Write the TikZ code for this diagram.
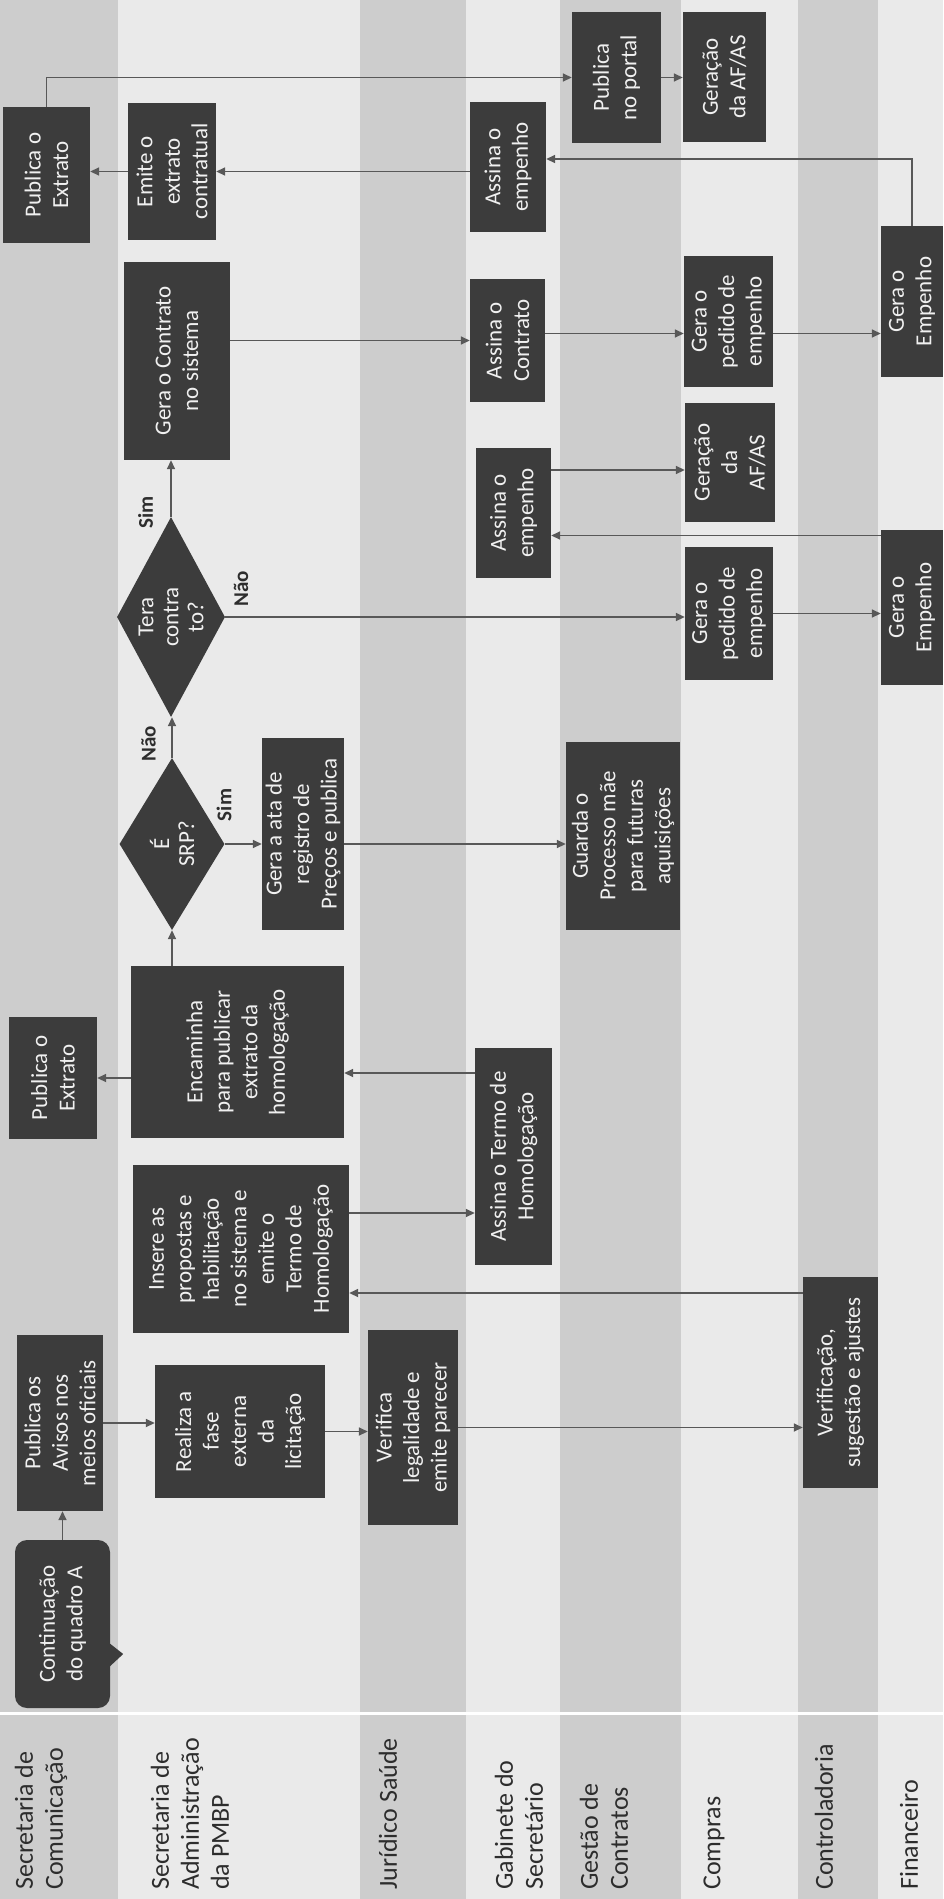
\documentclass[tikz,border=0pt]{standalone}
\usepackage{fontspec}
\setmainfont{Carlito}
\usepackage{tikz}
\usetikzlibrary{arrows.meta,calc,shapes.geometric}
\definecolor{lanegray}{RGB}{205,205,205}
\definecolor{lanelight}{RGB}{234,234,234}
\definecolor{boxdark}{RGB}{60,60,60}
\definecolor{boxtext}{RGB}{240,240,240}
\definecolor{wiregray}{RGB}{88,88,88}
\definecolor{labelink}{RGB}{45,45,45}
\tikzset{
  flow/.style={-{Triangle[length=9pt,width=8pt]},line width=1.6pt,draw=wiregray},
  task/.style={rotate=90,fill=boxdark,text=boxtext,align=center,inner sep=1pt,
               font=\fontsize{23}{27.5}\selectfont},
  decision/.style={task,shape=diamond,inner sep=0pt,font=\fontsize{23}{25}\selectfont},
  bubble/.style={task,rounded corners=12pt},
  lane/.style={rotate=90,anchor=west,align=left,inner sep=0pt,text=labelink,
               font=\fontsize{26}{30}\selectfont},
  answer/.style={rotate=90,inner sep=0pt,text=labelink,
                 font=\fontsize{21}{21}\selectfont\bfseries},
}
\begin{document}
\begin{tikzpicture}[x=1pt,y=-1pt]
  \path[use as bounding box] (0,0) rectangle (943,1899);
  \fill[lanegray]  (0,0)   rectangle (118,1899);
  \fill[lanelight] (118,0) rectangle (360,1899);
  \fill[lanegray]  (360,0) rectangle (466,1899);
  \fill[lanelight] (466,0) rectangle (560,1899);
  \fill[lanegray]  (560,0) rectangle (681,1899);
  \fill[lanelight] (681,0) rectangle (798,1899);
  \fill[lanegray]  (798,0) rectangle (878,1899);
  \fill[lanelight] (878,0) rectangle (943,1899);
  \draw[white,line width=3pt] (0,1713) -- (943,1713);

  \node[lane] (lnCom) at (41,1890) {Secretaria de\\Comunicação};
  \node[lane] (lnAdm) at (190,1890) {Secretaria de\\Administração\\da PMBP};
  \node[lane] (lnJur) at (388,1890) {Jurídico Saúde};
  \node[lane] (lnGab) at (519,1890) {Gabinete do\\Secretário};
  \node[lane] (lnGes) at (604,1890) {Gestão de\\Contratos};
  \node[lane] (lnCmp) at (714,1890) {Compras};
  \node[lane] (lnCtr) at (824,1890) {Controladoria};
  \node[lane] (lnFin) at (909,1890) {Financeiro};

  \node[bubble,minimum width=168pt,minimum height=95pt] (cont) at (62.5,1624)
    {Continuação\\do quadro A};
  \fill[boxdark] ($(cont.south)+(-1,19)$) -- ($(cont.south)+(13,30)$)
    -- ($(cont.south)+(-1,43)$) -- cycle;
  \node[task,minimum width=176pt,minimum height=86pt] (pubAvisos) at (60,1423)
    {Publica os\\Avisos nos\\meios oficiais};
  \node[task,minimum width=133pt,minimum height=170pt] (realiza) at (240,1431.5)
    {Realiza a\\fase\\externa\\da\\licitação};
  \node[task,minimum width=195pt,minimum height=90pt] (verifica) at (413,1427.5)
    {Verifica\\legalidade e\\emite parecer};
  \node[task,minimum width=211pt,minimum height=75pt] (verificacao) at (840.5,1382.5)
    {Verificação,\\sugestão e ajustes};
  \node[task,minimum width=168pt,minimum height=216pt] (insere) at (241,1249)
    {Insere as\\propostas e\\habilitação\\no sistema e\\emite o\\Termo de\\Homologação};
  \node[task,minimum width=217pt,minimum height=77pt] (assinaTermo) at (513.5,1156.5)
    {Assina o Termo de\\Homologação};
  \node[task,minimum width=172pt,minimum height=213pt] (encaminha) at (237.5,1052)
    {Encaminha\\para publicar\\extrato da\\homologação};
  \node[task,minimum width=122pt,minimum height=88pt] (pubExtratoA) at (53,1078)
    {Publica o\\Extrato};
  \node[decision,minimum width=172pt,minimum height=105pt,aspect=1.64] (srp) at (172,844)
    {É\\SRP?};
  \node[task,minimum width=192pt,minimum height=82pt] (geraAta) at (303,834)
    {Gera a ata de\\registro de\\Preços e publica};
  \node[task,minimum width=188pt,minimum height=114pt] (guarda) at (623,836)
    {Guarda o\\Processo mãe\\para futuras\\aquisições};
  \node[decision,minimum width=200pt,minimum height=108pt,aspect=1.85] (tera) at (171,617)
    {Tera\\contra\\to?};
  \node[task,minimum width=198pt,minimum height=106pt] (geraContrato) at (177,361)
    {Gera o Contrato\\no sistema};
  \node[task,minimum width=123pt,minimum height=75pt] (assinaContrato) at (507.5,340.5)
    {Assina o\\Contrato};
  \node[task,minimum width=130pt,minimum height=75pt] (assinaEmpA) at (513.5,513)
    {Assina o\\empenho};
  \node[task,minimum width=119pt,minimum height=90pt] (geracaoB) at (730,462.5)
    {Geração\\da\\AF/AS};
  \node[task,minimum width=133pt,minimum height=88pt] (pedidoB) at (729,613.5)
    {Gera o\\pedido de\\empenho};
  \node[task,minimum width=155pt,minimum height=62pt] (empenhoB) at (912,607.5)
    {Gera o\\Empenho};
  \node[task,minimum width=131pt,minimum height=89pt] (pedidoA) at (728.5,321.5)
    {Gera o\\pedido de\\empenho};
  \node[task,minimum width=151pt,minimum height=62pt] (empenhoA) at (912,301.5)
    {Gera o\\Empenho};
  \node[task,minimum width=130pt,minimum height=76pt] (assinaEmpB) at (508,167)
    {Assina o\\empenho};
  \node[task,minimum width=137pt,minimum height=88pt] (emite) at (172,171.5)
    {Emite o\\extrato\\contratual};
  \node[task,minimum width=136pt,minimum height=87pt] (pubExtratoB) at (46.5,175)
    {Publica o\\Extrato};
  \node[task,minimum width=131pt,minimum height=89pt] (portal) at (616.5,77.5)
    {Publica\\no portal};
  \node[task,minimum width=130pt,minimum height=83pt] (geracaoA) at (724.5,77)
    {Geração\\da AF/AS};

  \node[answer] (simSrp) at (224,805) {Sim};
  \node[answer] (naoSrp) at (148.5,743.5) {Não};
  \node[answer] (simTera) at (145.5,512.5) {Sim};
  \node[answer] (naoTera) at (241,588.5) {Não};

  \coordinate (vIn) at ($(verificacao.north)+(0,-89.5)$);
  \coordinate (iOut) at ($(insere.south)+(0,-36)$);
  \coordinate (tOut) at ($(assinaTermo.north)+(0,-83.5)$);
  \coordinate (eOut) at ($(empenhoB.north)+(0,-72)$);
  \coordinate (aOut) at ($(assinaEmpA.south)+(0,-43)$);
  \coordinate (cOut) at ($(assinaContrato.south)+(0,-7)$);
  \coordinate (bIn) at ($(assinaEmpB.south)+(0,-8)$);

  \draw[flow] (cont.east) -- (cont.east |- pubAvisos.west);
  \draw[flow] (pubAvisos.south) -- (realiza.north |- pubAvisos.south);
  \draw[flow] (realiza.south) -- (verifica.north |- realiza.south);
  \draw[flow] (verifica.south) -- (verificacao.north |- verifica.south);
  \draw[flow] (vIn) -- (insere.south |- vIn);
  \draw[flow] (iOut) -- (assinaTermo.north |- iOut);
  \draw[flow] (tOut) -- (encaminha.south |- tOut);
  \draw[flow] (encaminha.north |- pubExtratoA.south) -- (pubExtratoA.south);
  \draw[flow] (srp.west |- encaminha.east) -- (srp.west);
  \draw[flow] (srp.south) -- (geraAta.north |- srp.south);
  \draw[flow] (geraAta.south |- srp.south) -- (guarda.north |- srp.south);
  \draw[flow] (srp.east) -- (srp.east |- tera.west);
  \draw[flow] (tera.east) -- (tera.east |- geraContrato.west);
  \draw[flow] (tera.south) -- (pedidoB.north |- tera.south);
  \draw[flow] (pedidoB.south) -- (empenhoB.north |- pedidoB.south);
  \draw[flow] (eOut) -- (assinaEmpA.south |- eOut);
  \draw[flow] (aOut) -- (geracaoB.north |- aOut);
  \draw[flow] (geraContrato.south |- assinaContrato.north) -- (assinaContrato.north);
  \draw[flow] (cOut) -- (pedidoA.north |- cOut);
  \draw[flow] (pedidoA.south |- cOut) -- (empenhoA.north |- cOut);
  \draw[flow] (empenhoA.east) |- (bIn);
  \draw[flow] (assinaEmpB.north |- emite.south) -- (emite.south);
  \draw[flow] (emite.north) -- (pubExtratoB.south |- emite.north);
  \draw[flow] (pubExtratoB.east) |- (portal.north);
  \draw[flow] (portal.south) -- (geracaoA.north |- portal.south);
\end{tikzpicture}
\end{document}
